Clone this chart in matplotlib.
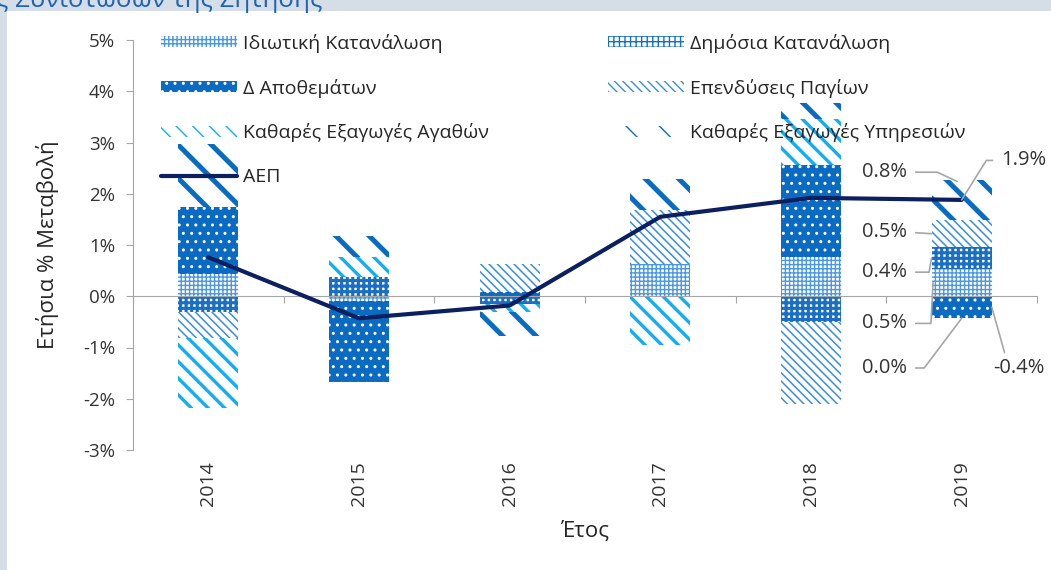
import matplotlib.pyplot as plt
from matplotlib.patches import Patch, Rectangle

plt.rcParams['font.family'] = ['Open Sans', 'DejaVu Sans']

years = ['2014', '2015', '2016', '2017', '2018', '2019']
private = [0.43, -0.10, 0.00, 0.62, 0.76, 0.53]
public = [-0.31, 0.37, -0.15, 0.00, -0.51, 0.43]
inventory = [1.31, -1.58, 0.08, 0.00, 1.80, -0.43]
investment = [-0.51, 0.00, 0.55, 1.07, -1.60, 0.52]
goods = [-1.37, 0.39, -0.16, -0.95, 0.90, 0.00]
services = [1.23, 0.41, -0.47, 0.59, 0.31, 0.78]
gdp = [0.76, -0.43, -0.18, 1.55, 1.92, 1.88]

names = ['Ιδιωτική Κατανάλωση', 'Δημόσια Κατανάλωση', 'Δ Αποθεμάτων',
         'Επενδύσεις Παγίων', 'Καθαρές Εξαγωγές Αγαθών', 'Καθαρές Εξαγωγές Υπηρεσιών']
series = [private, public, inventory, investment, goods, services]
# face, hatch, hatch colour, hatch width
styles = [
    ('white', '++++', '#4b97e0', 1.0),
    ('white', '+++', '#1a6fc4', 2.2),
    ('#0b6bc3', '..', 'white', 1.0),
    ('white', '\\\\\\\\', '#3a8fdc', 1.1),
    ('white', '\\\\', '#12aef0', 2.4),
    ('white', '\\', '#0a6cc0', 3.6),
]

fig = plt.figure(figsize=(10.51, 5.70), dpi=100, facecolor='#d5dde6')
fig.patches.append(Rectangle((7 / 1051, 0), 1, 1 - 11 / 570, transform=fig.transFigure,
                             facecolor='white', edgecolor='none', zorder=-5))
fig.text(-0.004, 1 - 7 / 570, 'ς Συνιστωσών της Ζήτησης', color='#1f63b5',
         fontsize=18.5, va='baseline', ha='left')

ax = fig.add_axes([133 / 1051, 1 - 450 / 570, (1037 - 133) / 1051, 410 / 570])
ax.set_facecolor('none')

x = list(range(len(years)))
pos_base = [0.0] * len(years)
neg_base = [0.0] * len(years)
handles = []
for vals, name, (fc, hatch, hc, hlw) in zip(series, names, styles):
    bottoms = []
    for i, v in enumerate(vals):
        if v >= 0:
            bottoms.append(pos_base[i])
            pos_base[i] += v
        else:
            bottoms.append(neg_base[i])
            neg_base[i] += v
    with plt.rc_context({'hatch.linewidth': hlw}):
        bars = ax.bar(x, vals, bottom=bottoms, width=0.4, facecolor=fc,
                      edgecolor=hc, hatch=hatch, linewidth=0, zorder=2)
        h = Patch(facecolor=fc, edgecolor=hc, hatch=hatch, linewidth=0, label=name)
    for b in list(bars) + [h]:
        if hasattr(b, 'set_hatch_linewidth'):
            b.set_hatch_linewidth(hlw)
    handles.append(h)

line, = ax.plot(x, gdp, color='#0c1f5e', lw=3, zorder=4, label='ΑΕΠ',
                solid_capstyle='round')

order = [handles[0], handles[2], handles[4], line, handles[1], handles[3], handles[5]]
ax.legend(handles=order, ncol=2, loc='upper left', bbox_to_anchor=(0.012, 1.058),
          frameon=False, fontsize=14, handlelength=3.9, handleheight=0.5,
          handletextpad=0.3, labelspacing=1.33, columnspacing=6.15,
          labelcolor='#262626')

ax.set_xlim(-0.5, 5.5)
ax.set_ylim(-3, 5)
ax.set_yticks(range(-3, 6))
ax.set_yticklabels([f'{t}%' for t in range(-3, 6)])
ax.tick_params(axis='y', colors='#a6a6a6', labelcolor='#333333', labelsize=13.5,
               length=5, pad=8)
ax.set_ylabel('Ετήσια % Μεταβολή', fontsize=16, color='#262626', labelpad=17)

for s in ['top', 'right']:
    ax.spines[s].set_visible(False)
ax.spines['left'].set_color('#a6a6a6')
ax.spines['bottom'].set_color('#a6a6a6')
ax.spines['bottom'].set_position(('data', 0))
ax.spines['bottom'].set_zorder(3)
ax.set_xticks([i + 0.5 for i in range(-1, len(years))])
ax.set_xticklabels([])
ax.tick_params(axis='x', colors='#a6a6a6', length=5)

sec = ax.secondary_xaxis('bottom')
sec.set_xticks(x)
sec.set_xticklabels(years, rotation=90)
sec.tick_params(length=0, labelsize=14, labelcolor='#333333', pad=8)
sec.spines['bottom'].set_visible(False)
sec.set_xlabel('Έτος', fontsize=16, color='#262626', labelpad=11)

# data labels for 2019
i = 5
lc = '#a6a6a6'
tops = {}
pb, nb = 0.0, 0.0
for vals, name in zip(series, names):
    v = vals[i]
    if v >= 0:
        tops[name] = (pb, pb + v)
        pb += v
    else:
        tops[name] = (nb + v, nb)
        nb += v
lab_kw = dict(fontsize=14.5, color='#333333', va='center')
left_labels = [
    (services, names[5], 2.42, (4.97, tops[names[5]][1] - 0.02), 'angle,angleA=0,angleB=-25,rad=0'),
    (investment, names[3], 1.25, (4.8, sum(tops[names[3]]) / 2), 'arc3,rad=0'),
    (public, names[1], 0.47, (4.8, sum(tops[names[1]]) / 2), 'angle,angleA=0,angleB=80,rad=0'),
    (private, names[0], -0.53, (4.81, sum(tops[names[0]]) / 2), 'angle,angleA=0,angleB=87,rad=0'),
    (goods, names[4], -1.4, (5.0, nb), 'angle,angleA=0,angleB=53,rad=0'),
]
for vals, name, yt, xy, cs in left_labels:
    ax.annotate(f'{vals[i]:.1f}%', xy=xy, xytext=(4.64, yt), ha='right', **lab_kw,
                arrowprops=dict(arrowstyle='-', color=lc, lw=1.2, shrinkA=4, shrinkB=0,
                                connectionstyle=cs, relpos=(1, 0.5)), zorder=5)
ax.annotate(f'{inventory[i]:.1f}%', xy=(5.2, sum(tops[names[2]]) / 2), xytext=(5.38, -1.4),
            ha='center', **lab_kw,
            arrowprops=dict(arrowstyle='-', color=lc, lw=1.2, shrinkA=2, shrinkB=0,
                            relpos=(0.25, 1)), zorder=5)
ax.annotate(f'{gdp[i]:.1f}%', xy=(5.0, gdp[i]), xytext=(5.26, 2.65), ha='left', **lab_kw,
            arrowprops=dict(arrowstyle='-', color=lc, lw=1.2, shrinkA=4, shrinkB=0,
                            connectionstyle='angle,angleA=0,angleB=58,rad=0',
                            relpos=(0, 0.5)), zorder=5)

fig.savefig('out.png', dpi=100, facecolor=fig.get_facecolor())
